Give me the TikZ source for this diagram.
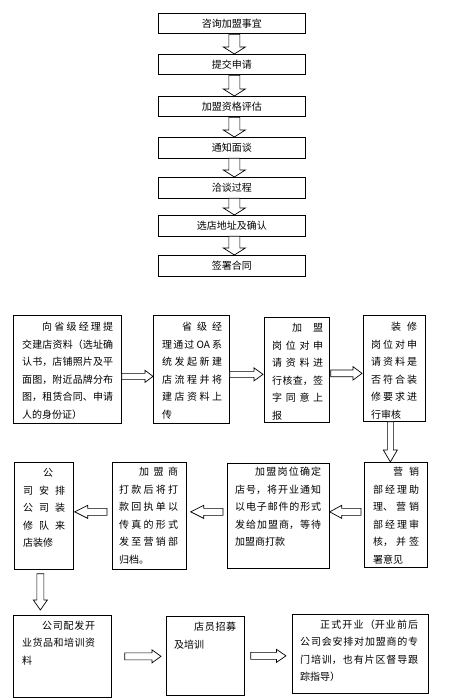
\documentclass[tikz,border=0pt]{standalone}
\usepackage{fontspec}
\setmainfont{Noto Sans CJK SC}
\usetikzlibrary{calc}
\XeTeXlinebreaklocale "zh"
\XeTeXlinebreakskip=0pt plus 1fil
\newcommand\T{\parindent=0pt\parfillskip=0pt plus 1fill\relax\rule{0pt}{12pt}}
\newcommand\E{\hspace*{0pt plus 1filll}\null}
\newcommand\ind{\hspace*{2em}}
% block arrows: #1 start, #2 end, #3 shaft half width, #4 head half width, #5 head length
\newcommand\arrR[5]{\draw[blk] let \p1=(#1), \p2=(#2) in (\x1,{\y1+#3pt}) -- ({\x2-#5pt},{\y1+#3pt}) -- ({\x2-#5pt},{\y1+#4pt}) -- (\x2,\y1) -- ({\x2-#5pt},{\y1-#4pt}) -- ({\x2-#5pt},{\y1-#3pt}) -- (\x1,{\y1-#3pt}) -- cycle;}
\newcommand\arrL[5]{\draw[blk] let \p1=(#1), \p2=(#2) in (\x1,{\y1+#3pt}) -- ({\x2+#5pt},{\y1+#3pt}) -- ({\x2+#5pt},{\y1+#4pt}) -- (\x2,\y1) -- ({\x2+#5pt},{\y1-#4pt}) -- ({\x2+#5pt},{\y1-#3pt}) -- (\x1,{\y1-#3pt}) -- cycle;}
\newcommand\arrD[5]{\draw[blk] let \p1=(#1), \p2=(#2) in ({\x1-#3pt},\y1) -- ({\x1-#3pt},{\y2+#5pt}) -- ({\x1-#4pt},{\y2+#5pt}) -- (\x1,\y2) -- ({\x1+#4pt},{\y2+#5pt}) -- ({\x1+#3pt},{\y2+#5pt}) -- ({\x1+#3pt},\y1) -- cycle;}
\tikzset{
  box/.style={draw=black,line width=0.7pt,anchor=north west,inner sep=0pt},
  topbox/.style={draw=black,line width=0.7pt,minimum width=147pt,minimum height=20.5pt,inner sep=0pt,anchor=north west,font=\fontsize{10pt}{12pt}\selectfont},
  txt/.style={anchor=north west,inner sep=0pt,align=justify,font=\fontsize{10pt}{17.5pt}\selectfont},
  blk/.style={draw=black,fill=white,line width=0.7pt,line join=miter},
}
\begin{document}
\begin{tikzpicture}[x=1pt,y=-1pt]
\useasboundingbox (0,0) rectangle (456,698);
% top column
\node[topbox] (s1) at (158,13) {咨询加盟事宜};
\node[topbox] (s2) at (158,54) {提交申请};
\node[topbox] (s3) at (158,96) {加盟资格评估};
\node[topbox] (s4) at (158,137) {通知面谈};
\node[topbox] (s5) at (158,177) {洽谈过程};
\node[topbox] (s6) at (158,215) {选店地址及确认};
\node[topbox] (s7) at (158,255) {签署合同};
% row 1
\node[box,minimum width=108pt,minimum height=108pt] (A) at (13,315) {};
\node[box,minimum width=76pt,minimum height=108pt] (B) at (153,315) {};
\node[box,minimum width=65pt,minimum height=105pt] (C) at (264,317) {};
\node[box,minimum width=62pt,minimum height=106pt] (D) at (363,315) {};
\node[txt,text width=91pt] (At) at (22,318.5) {\T\ind 向省级经理提\linebreak 交建店资料（选址确\linebreak 认书，店铺照片及平\linebreak 面图，附近品牌分布\linebreak 图，租赁合同、申请\linebreak 人的身份证）\E};
\node[txt,text width=60pt] (Bt) at (162,318.5) {\T\ind 省级经\linebreak 理通过 OA 系\linebreak 统发起新建\linebreak 店流程并将\linebreak 建店资料上\linebreak 传\E};
\node[txt,text width=51pt] (Ct) at (272,319.5) {\T\ind 加盟\linebreak 岗位对申\linebreak 请资料进\linebreak 行核查，签\linebreak 字同意上\linebreak 报\E};
\node[txt,text width=46pt] (Dt) at (371,318.5) {\T\ind 装修\linebreak 岗位对申\linebreak 请资料是\linebreak 否符合装\linebreak 修要求进\linebreak 行审核\E};
% row 2
\node[box,minimum width=63pt,minimum height=105pt] (E) at (364,462) {};
\node[box,minimum width=102pt,minimum height=105pt] (F) at (227,463) {};
\node[box,minimum width=74pt,minimum height=107pt] (G) at (112,462) {};
\node[box,minimum width=59pt,minimum height=107pt] (H) at (14,462) {};
\node[txt,text width=46pt] (Et) at (373,463.5) {\T\ind 营销\linebreak 部经理助\linebreak 理、营销\linebreak 部经理审\linebreak 核，并签\linebreak 署意见\E};
\node[txt,text width=86pt] (Ft) at (235,463.5) {\T\ind 加盟岗位确定\linebreak 店号，将开业通知\linebreak 以电子邮件的形式\linebreak 发给加盟商，等待\linebreak 加盟商打款\E};
\node[txt,text width=59pt] (Gt) at (119,463.5) {\T\ind 加盟商\linebreak 打款后将打\linebreak 款回执单以\linebreak 传真的形式\linebreak 发至营销部\linebreak 归档。\E};
\node[txt,text width=42pt] (Ht) at (23,464.5) {\T\ind 公\linebreak 司安排\linebreak 公司装\linebreak 修队来\linebreak 店装修\E};
% row 3
\node[box,minimum width=98pt,minimum height=82pt] (I) at (13,615) {};
\node[box,minimum width=78pt,minimum height=79pt] (J) at (166,616) {};
\node[box,minimum width=136pt,minimum height=79pt] (K) at (292,614) {};
\node[txt,text width=73pt] (It) at (22,616.8) {\T\ind 公司配发开\linebreak 业货品和培训资\linebreak 料\E};
\node[txt,text width=62pt] (Jt) at (174,618.5) {\T\ind 店员招募\linebreak 及培训\E};
\node[txt,text width=118pt] (Kt) at (300,616.1) {\T\ind 正式开业（开业前后\linebreak 公司会安排对加盟商的专\linebreak 门培训，也有片区督导跟\linebreak 踪指导）\E};
% arrows
\arrD{$(s1.south)+(2.5,0)$}{$(s2.north)+(2.5,0)$}{5.5}{11}{7}
\arrD{$(s2.south)+(2.5,0)$}{$(s3.north)+(2.5,0)$}{5.5}{11}{7}
\arrD{$(s3.south)+(2.5,0)$}{$(s4.north)+(2.5,0)$}{5.5}{11}{7}
\arrD{$(s4.south)+(2.5,0)$}{$(s5.north)+(2.5,0)$}{5.5}{11}{7}
\arrD{$(s5.south)+(2.5,0)$}{$(s6.north)+(2.5,0)$}{5.5}{11}{7}
\arrD{$(s6.south)+(2.5,0)$}{$(s7.north)+(2.5,0)$}{5.5}{11}{7}
\arrR{$(A.east)+(0,7)$}{$(B.west)+(0,7)$}{3}{6}{8}
\arrR{$(B.east)+(0,5)$}{$(C.west)+(-1,5)$}{3}{6.5}{9}
\arrR{$(C.east)+(1,3.5)$}{$(D.west)+(-1,3.5)$}{3.3}{6.7}{9}
\arrD{$(D.south)+(-4,0)$}{$(E.north)+(-4,0)$}{3}{7}{12}
\arrL{$(E.west)+(-3,-3)$}{$(F.east)+(0,-3)$}{3.5}{6.5}{12}
\arrL{$(F.west)+(-4,-4)$}{$(G.east)+(4,-4)$}{3.5}{6.5}{13}
\arrL{$(G.west)+(-5,-4)$}{$(H.east)+(1,-4)$}{3.5}{6.5}{13}
\arrD{$(H.south)+(-3.5,4)$}{$(I.north)+(-3.5,-5)$}{3.5}{7}{10}
\arrR{$(I.east)+(13,0)$}{$(J.west)+(-5,0)$}{3.5}{6.5}{9}
\arrR{$(J.east)+(6,0)$}{$(K.west)+(-6,1.5)$}{3.5}{6.5}{9.5}
\end{tikzpicture}
\end{document}
